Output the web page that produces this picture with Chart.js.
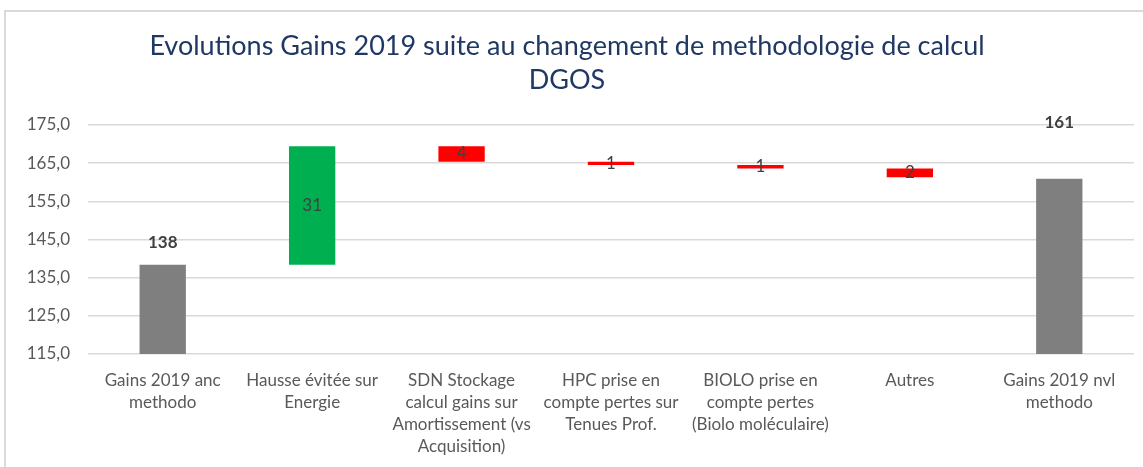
<!DOCTYPE html>
<html>
<head>
<meta charset="utf-8">
<script src="https://cdn.jsdelivr.net/npm/chart.js@4.4.1/dist/chart.umd.min.js"></script>
<style>
  html, body { margin: 0; padding: 0; background: #fff; }
  .wrap { position: relative; width: 1143px; height: 467px; }
  .frame { position: absolute; left: 4px; top: 10px; right: 0; bottom: 0;
           border-top: 2px solid #d9d9d9; border-left: 2px solid #d9d9d9; }
  canvas { position: absolute; left: 0; top: 0; }
</style>
</head>
<body>
<div class="wrap">
  <div class="frame"></div>
  <canvas id="myChart" width="1143" height="467"></canvas>
</div>
<script>
// data
const categories = [
  ["Gains 2019 anc", "methodo"],
  ["Hausse évitée sur", "Energie"],
  ["SDN Stockage", "calcul gains sur", "Amortissement (vs", "Acquisition)"],
  ["HPC prise en", "compte pertes sur", "Tenues Prof."],
  ["BIOLO prise en", "compte pertes", "(Biolo moléculaire)"],
  ["Autres"],
  ["Gains 2019 nvl", "methodo"]
];
const startValue = 138.4;
const variations = [31.0, -4.0, -0.9, -0.9, -2.3];
const endValue = 160.9;
const valueLabels = ["138", "31", "4", "1", "1", "2", "161"];
const yTickValues = [115, 125, 135, 145, 155, 165, 175];

// waterfall ranges built from the values above
const ranges = [[yTickValues[0], startValue]];
let running = startValue;
variations.forEach((v) => {
  ranges.push([running, running + v]);
  running += v;
});
ranges.push([yTickValues[0], endValue]);

const colors = ["#7f7f7f"];
variations.forEach((v) => colors.push(v >= 0 ? "#00b050" : "#ff0000"));
colors.push("#7f7f7f");

const FONT = "Lato, 'Open Sans', sans-serif";

//labels on bars
const barLabels = {
  id: "barLabels",
  afterDatasetsDraw(chart) {
    const { ctx, chartArea } = chart;
    const meta = chart.getDatasetMeta(0);
    ctx.save();
    ctx.textAlign = "center";
    ctx.textBaseline = "middle";
    meta.data.forEach((bar, i) => {
      const last = valueLabels.length - 1;
      ctx.fillStyle = "#404040";
      if (i === 0 || i === last) {
        ctx.font = "bold 17px " + FONT;
        const y = i === 0 ? bar.y - 22 : chartArea.top - 2;
        ctx.fillText(valueLabels[i], bar.x, y);
      } else {
        ctx.font = "17px " + FONT;
        ctx.fillText(valueLabels[i], bar.x, (bar.y + bar.base) / 2);
      }
    });
    ctx.restore();
  },
};

const ctx = document.getElementById("myChart");
const myChart = new Chart(ctx, {
  type: "bar",
  data: {
    labels: categories,
    datasets: [
      {
        data: ranges,
        backgroundColor: colors,
        borderWidth: 0,
        barPercentage: 0.31,
        categoryPercentage: 1,
      },
    ],
  },
  options: {
    responsive: false,
    animation: false,
    layout: { padding: { left: 0, right: 9, top: 0, bottom: 0 } },
    plugins: {
      legend: { display: false },
      tooltip: { enabled: false },
      title: {
        display: true,
        text: ["Evolutions Gains 2019 suite au changement de methodologie de calcul", "DGOS"],
        color: "#1f3864",
        font: { family: FONT, size: 27, weight: "normal", lineHeight: 34 / 27 },
        padding: { top: 29, bottom: 28 },
      },
    },
    scales: {
      x: {
        afterFit: (scale) => { scale.height = 113; },
        grid: { display: false, drawTicks: false },
        border: { display: false },
        ticks: {
          color: "#595959",
          font: { family: FONT, size: 17, lineHeight: 22 / 17 },
          padding: 16,
          maxRotation: 0,
          autoSkip: false,
        },
      },
      y: {
        min: yTickValues[0],
        max: yTickValues[yTickValues.length - 1],
        afterFit: (scale) => { scale.width = 88; },
        afterBuildTicks: (scale) => {
          scale.ticks = yTickValues.map((v) => ({ value: v }));
        },
        grid: { color: "#d9d9d9", lineWidth: 1.5, drawTicks: false },
        border: { display: false },
        ticks: {
          color: "#595959",
          font: { family: FONT, size: 17 },
          padding: 18,
          callback: (v) => v.toFixed(1).replace(".", ","),
        },
      },
    },
  },
  plugins: [barLabels],
});
</script>
</body>
</html>
